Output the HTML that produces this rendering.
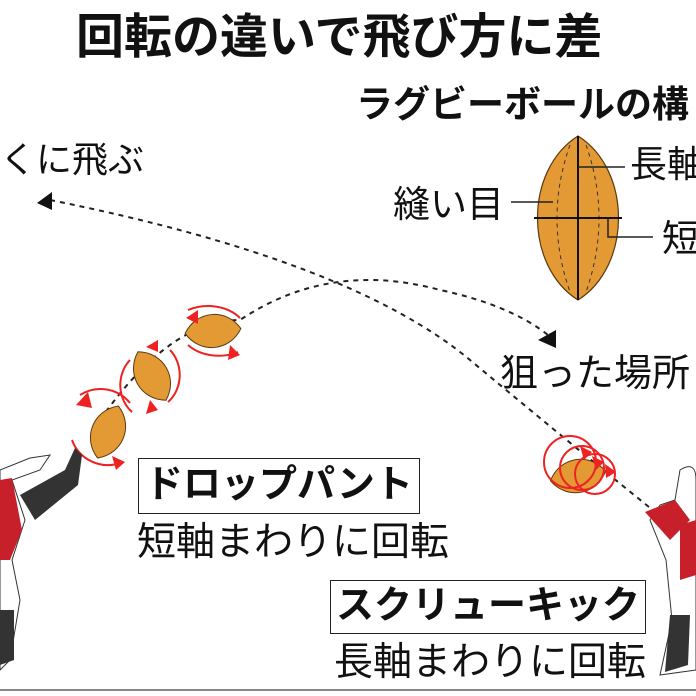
<!DOCTYPE html><html><head><meta charset="utf-8"><style>
body{margin:0;width:696px;height:696px;background:#fff;overflow:hidden;position:relative;font-family:"Liberation Sans","Noto Sans CJK JP",sans-serif}
.t{position:absolute;white-space:nowrap;color:#111;line-height:1}
.box{position:absolute;border:1.5px solid #222;box-sizing:border-box}
</style></head><body>
<svg width="696" height="696" style="position:absolute;left:0;top:0">
<defs>
<path id="bl" d="M-28,0 C-15,-22 15,-22 28,0 C15,22 -15,22 -28,0Z" fill="#e39a35" stroke="#5a3a10" stroke-width="1"/>
</defs>
<path d="M50,200 Q350,260 470,360 T690,540" fill="none" stroke="#222" stroke-width="2" stroke-dasharray="5,5"/>
<path d="M100,420 Q170,320 240,320 Q330,260 440,290 Q510,305 548,335" fill="none" stroke="#222" stroke-width="2" stroke-dasharray="5,5"/>
<polygon points="37,203 52,192 52,210" fill="#111"/>
<polygon points="538,340 556,330 556,348" fill="#111"/>
<path d="M578,136 C632,170 632,266 578,300 C524,266 524,170 578,136Z" fill="#e39a35" stroke="#5a3a10" stroke-width="1.2"/>
<path d="M570,145 Q544,218 570,292 M586,145 Q612,218 586,292" fill="none" stroke="#333" stroke-dasharray="4,4"/>
<line x1="578" y1="136" x2="578" y2="300" stroke="#111" stroke-width="2"/>
<line x1="534" y1="218" x2="622" y2="218" stroke="#111" stroke-width="2"/>
<polyline points="578,167 625,167" fill="none" stroke="#222" stroke-width="1.5"/>
<polyline points="511,202 553,202" fill="none" stroke="#222" stroke-width="1.5"/>
<polyline points="608,218 608,237 653,237" fill="none" stroke="#222" stroke-width="1.5"/>
<g transform="translate(108,432) rotate(-68)"><use href="#bl"/></g>
<g transform="translate(152,376) rotate(60)"><use href="#bl"/></g>
<g transform="translate(213,331) rotate(-5)"><use href="#bl"/></g>
<g fill="none" stroke="#e22" stroke-width="2">
<path d="M80,395 A38,38 0 0 1 130,403"/><path d="M72,440 A38,38 0 0 0 120,463"/>
<path d="M130,360 A30,34 0 0 0 132,412"/><path d="M170,350 A30,34 0 0 1 168,402"/>
<path d="M188,310 A40,30 0 0 1 240,318"/><path d="M188,345 A40,30 0 0 0 238,352"/>
</g>
<g fill="#e22">
<polygon points="76,405 88,392 92,408"/><polygon points="125,462 112,456 116,470"/>
<polygon points="146,347 158,340 158,352"/><polygon points="158,410 150,400 146,414"/>
<polygon points="186,318 198,310 198,324"/><polygon points="240,355 230,345 228,360"/>
</g>
<g transform="translate(578,476) rotate(-10)"><use href="#bl"/></g>
<g fill="none" stroke="#e22" stroke-width="2">
<circle cx="570" cy="462" r="26"/><circle cx="582" cy="468" r="22"/><circle cx="595" cy="474" r="20"/>
</g>
<g fill="#e22"><polygon points="580,446 592,452 584,460"/><polygon points="592,456 604,462 596,470"/><polygon points="605,464 616,472 606,478"/></g>
<path d="M0,470 L30,458 L50,455 L40,470 L12,480 L25,520 L12,560 L20,600 L10,660 L0,670Z" fill="#fff" stroke="#333" stroke-width="1"/>
<path d="M0,480 L12,478 L22,530 L10,560 L0,560Z" fill="#c8202a"/>
<path d="M20,495 L65,470 L75,448 L82,455 L78,485 L35,520 Z" fill="#333"/>
<path d="M0,610 L14,610 L14,660 L0,665Z" fill="#333"/>
<path d="M680,470 Q696,460 696,480 L696,670 L660,675 L672,620 L666,560 L650,520 L660,505 L675,500Z" fill="#fff" stroke="#333" stroke-width="1"/>
<path d="M645,512 L675,500 L690,520 L670,540Z" fill="#c8202a"/>
<path d="M680,525 L696,520 L696,575 L680,580Z" fill="#c8202a"/>
<path d="M670,615 L690,615 L688,665 L665,672Z" fill="#333"/>
<line x1="0" y1="690" x2="696" y2="690" stroke="#888" stroke-width="2"/>
</svg>
<div class="t" style="left:76px;top:14px;font-size:48px;font-weight:bold">回転の違いで飛び方に差</div>
<div class="t" style="left:356px;top:86px;font-size:37px;font-weight:bold">ラグビーボールの構</div>
<div class="t" style="left:0px;top:142px;font-size:36px">くに飛ぶ</div>
<div class="t" style="left:630px;top:146px;font-size:37px">長軸</div>
<div class="t" style="left:393px;top:186px;font-size:37px">縫い目</div>
<div class="t" style="left:662px;top:220px;font-size:37px">短</div>
<div class="t" style="left:500px;top:355px;font-size:38px">狙った場所</div>
<div class="box" style="left:138px;top:458px;width:282px;height:56px"></div>
<div class="t" style="left:145px;top:466px;font-size:38px;font-weight:bold">ドロップパント</div>
<div class="t" style="left:137px;top:523px;font-size:39px">短軸まわりに回転</div>
<div class="box" style="left:330px;top:580px;width:316px;height:54px"></div>
<div class="t" style="left:336px;top:587px;font-size:38px;font-weight:bold">スクリューキック</div>
<div class="t" style="left:334px;top:643px;font-size:39px">長軸まわりに回転</div>
</body></html>
